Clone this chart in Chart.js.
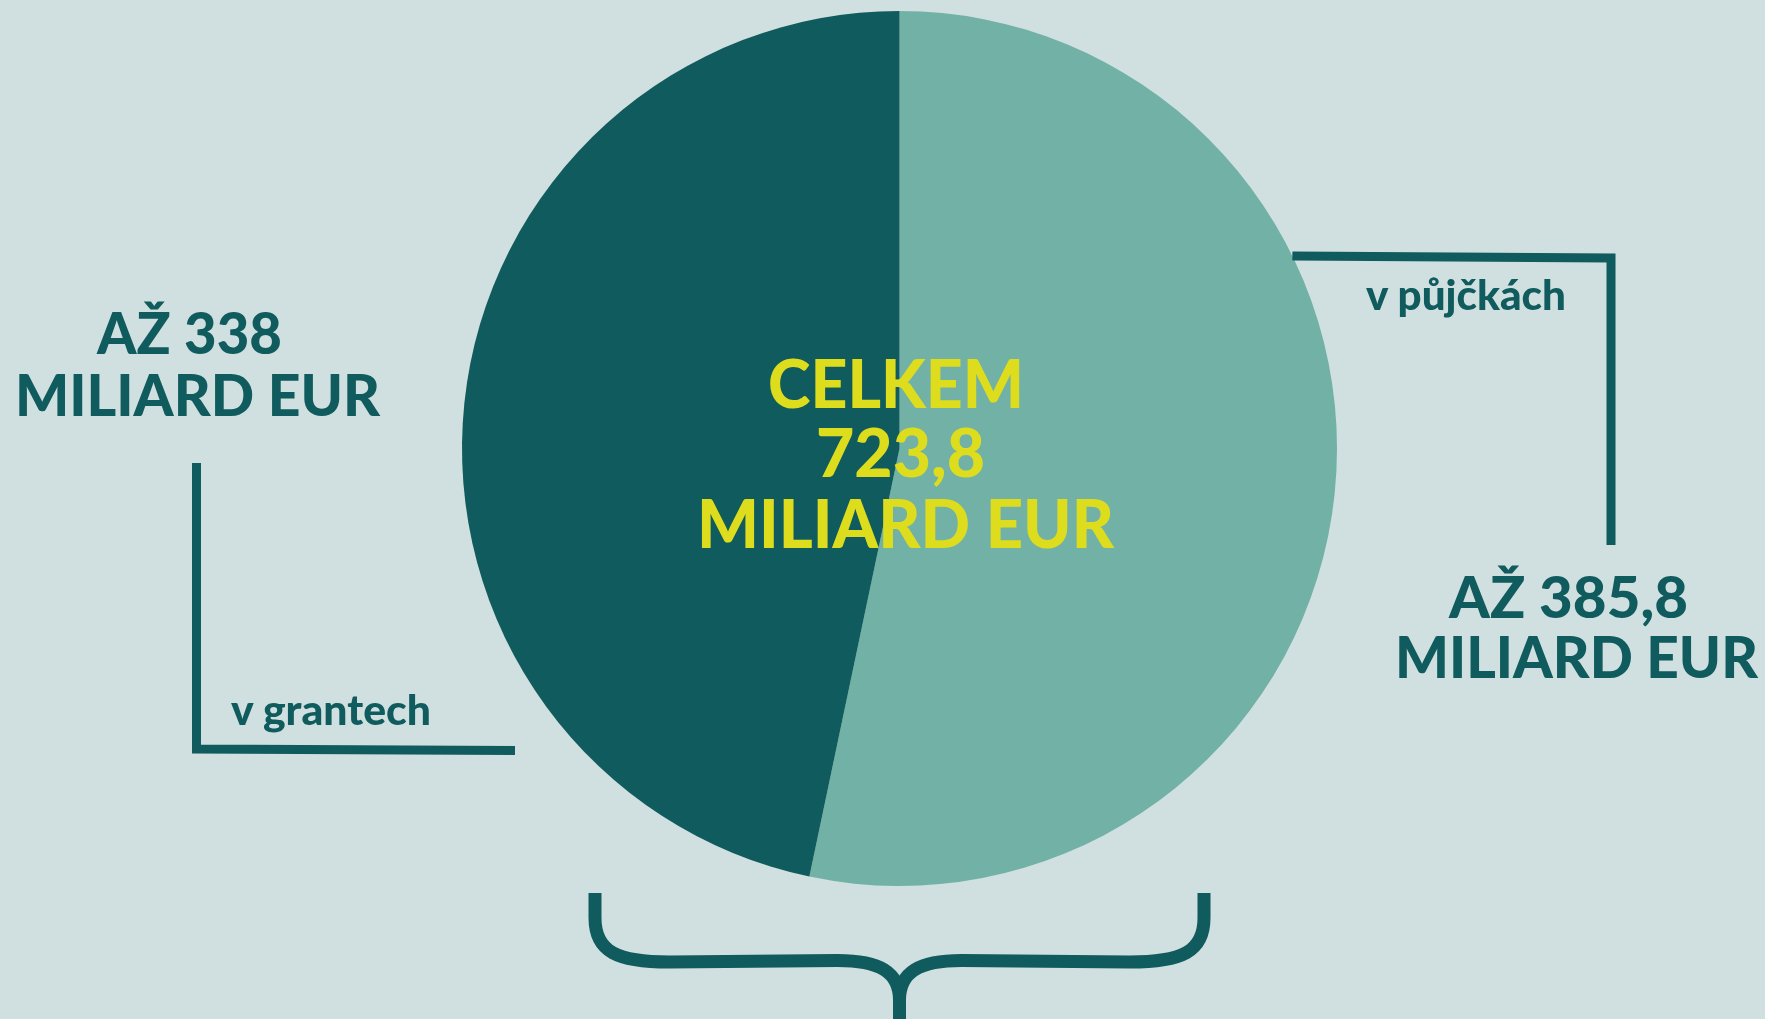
<!DOCTYPE html>
<html>
<head>
<meta charset="utf-8">
<script src="https://cdn.jsdelivr.net/npm/chart.js@4"></script>
<style>
  html, body { margin: 0; padding: 0; background: #d0dfdf; overflow: hidden; }
  #wrap { position: relative; width: 1765px; height: 1019px; }
  canvas { position: absolute; left: 0; top: 0; }
  .lbl { position: absolute; white-space: nowrap; font-family: Lato, "Open Sans", sans-serif; font-weight: 900; line-height: 1; color: #0f5b5d; transform-origin: 0 0; }
  .lbl i { display: inline-block; width: 0; height: 0; }
</style>
</head>
<body>
<div id="wrap">
  <canvas id="pie" width="1765" height="1019"></canvas>
</div>
<script>
const categories = ['v půjčkách', 'v grantech'];
const amounts = [385.8, 338];
const sliceColors = ['#72b1a6', '#0f5b5d'];
const unitLabel = 'MILIARD EUR';
const totalLabel = 'CELKEM';

const dark = '#0f5b5d';
const fmt = v => String(v).replace('.', ',');
const total = Math.round(amounts.reduce((a, b) => a + b, 0) * 10) / 10;

// connectors and the brace under the pie
const decor = {
    id: 'decor',
    afterDraw(chart) {
        const arc = chart.getDatasetMeta(0).data[0];
        const cx = arc.x, cy = arc.y, r = arc.outerRadius;
        const ctx = chart.ctx;
        ctx.save();
        ctx.strokeStyle = dark;
        ctx.lineJoin = 'miter';
        ctx.lineCap = 'butt';

        // right: from the pie edge out and down
        ctx.lineWidth = 9;
        const ry = 256;
        const rx = cx + Math.sqrt(r * r - (ry - cy) * (ry - cy));
        ctx.beginPath();
        ctx.moveTo(rx, ry);
        ctx.lineTo(1611, 258);
        ctx.lineTo(1611, 545);
        ctx.stroke();

        // left: down and across towards the pie
        ctx.beginPath();
        ctx.moveTo(196.5, 463);
        ctx.lineTo(196.5, 749);
        ctx.lineTo(515, 750.5);
        ctx.stroke();

        // brace
        ctx.lineWidth = 13;
        [-1, 1].forEach(s => {
            const x = d => cx + s * d;
            ctx.beginPath();
            ctx.moveTo(x(304.5), 893);
            ctx.lineTo(x(304.5), 918);
            ctx.bezierCurveTo(x(304.5), 952, x(282), 962, x(230), 962);
            ctx.lineTo(x(62), 960.5);
            ctx.bezierCurveTo(x(20), 960.5, x(0), 972, x(0), 1000);
            ctx.lineTo(x(0), 1025);
            ctx.stroke();
        });
        ctx.restore();
    }
};

const chart = new Chart(document.getElementById('pie'), {
    type: 'pie',
    data: {
        labels: categories,
        datasets: [{
            data: amounts,
            backgroundColor: sliceColors,
            borderWidth: 0
        }]
    },
    options: {
        responsive: false,
        animation: false,
        layout: { padding: { left: 462, right: 428, top: 11, bottom: 133 } },
        plugins: { legend: { display: false }, tooltip: { enabled: false } }
    },
    plugins: [decor]
});

// text labels, placed by baseline and squeezed to the width seen in the original
const wrap = document.getElementById('wrap');
function label(text, x, baseline, size, width, color, align) {
    const d = document.createElement('div');
    d.className = 'lbl';
    d.style.fontSize = size + 'px';
    if (color) d.style.color = color;
    d.textContent = text;
    const m = document.createElement('i');
    d.appendChild(m);
    wrap.appendChild(d);
    const w = d.getBoundingClientRect().width;
    const k = width / w;
    d.style.transform = 'scaleX(' + k + ')';
    d.style.left = (align === 'left' ? x : x - width / 2) + 'px';
    d.style.top = (baseline - m.offsetTop) + 'px';
}

const yellow = '#dddd1e';
label(totalLabel, 896, 408, 67, 256, yellow);
label(fmt(total), 900.5, 477, 67, 169, yellow);
label(unitLabel, 905.5, 548, 67, 417, yellow);

label('AŽ ' + fmt(amounts[1]), 189.5, 354, 57, 185);
label(unitLabel, 197.5, 416, 57, 365);
label(categories[1], 231, 725, 42, 200, null, 'left');

label(categories[0], 1366, 310, 42, 200, null, 'left');
label('AŽ ' + fmt(amounts[0]), 1568.5, 618, 57, 239);
label(unitLabel, 1576.5, 678, 57, 363);
</script>
</body>
</html>
